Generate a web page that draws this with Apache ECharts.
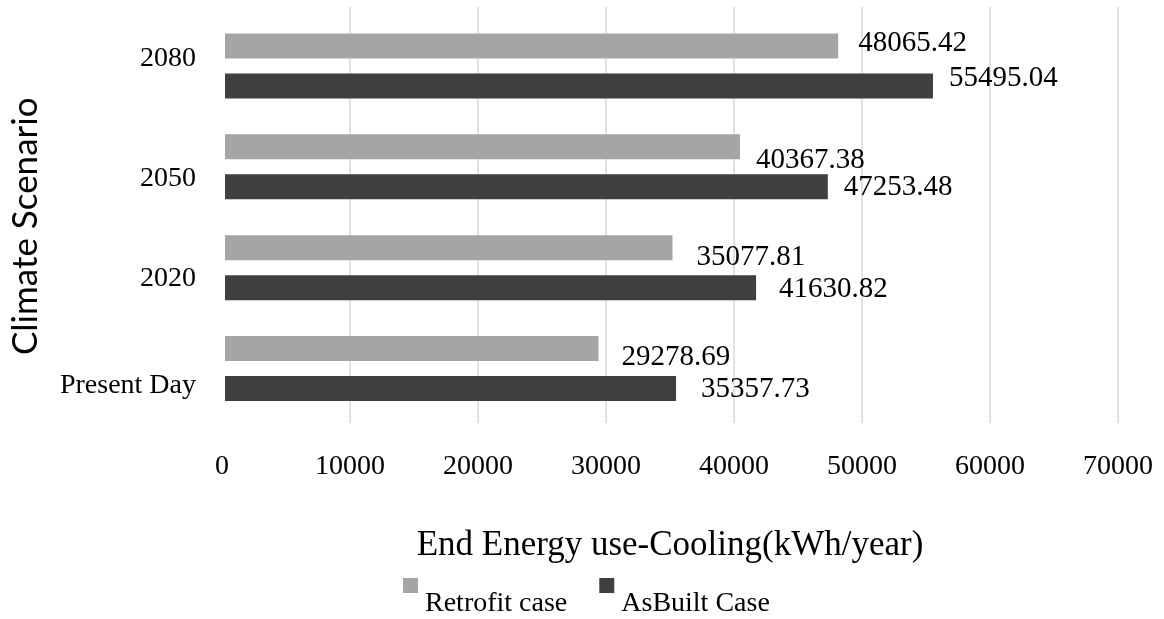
<!DOCTYPE html>
<html>
<head>
<meta charset="utf-8">
<script src="https://cdn.jsdelivr.net/npm/echarts@6/dist/echarts.min.js"></script>
<style>
html,body{margin:0;padding:0;background:#fff;}
#chart{width:1164px;height:619px;}
</style>
</head>
<body>
<div id="chart"></div>
<script>
// ---- data ----
const categories = ['Present Day', '2020', '2050', '2080'];
const retrofitValues = [29278.69, 35077.81, 40367.38, 48065.42];
const asBuiltValues = [35357.73, 41630.82, 47253.48, 55495.04];
const seriesNames = ['Retrofit case', 'AsBuilt Case'];
const xTickMin = 0, xTickMax = 70000, xTickStep = 10000;

// ---- styling (label nudges in px) ----
const retrofitLabelShift = [[23, 9], [24, 10], [16, 14], [20, -3]];
const asBuiltLabelShift = [[25, 1], [23, 2], [16, 1], [16, -8]];
const categoryLabelShift = [17, 11, 12, -7];

const SERIF = '"Liberation Serif", "Times New Roman", serif';
const LIGHT = '#a5a5a5', DARK = '#3f3f3f';

function buildData(values, shifts) {
  return values.map((v, i) => ({
    value: v,
    label: { offset: shifts[i] }
  }));
}
const labelBase = {
  show: true, position: 'right', distance: 0,
  color: '#000', fontFamily: SERIF, fontSize: 29,
  formatter: p => p.value.toFixed(2)
};
const catRich = {};
categoryLabelShift.forEach((s, i) => {
  catRich['c' + i] = {
    color: '#000', fontFamily: SERIF, fontSize: 28,
    padding: s >= 0 ? [2 * s, 0, 0, 0] : [0, 0, -2 * s, 0]
  };
});

const chart = echarts.init(document.getElementById('chart'), null, {renderer: 'canvas'});
chart.setOption({
  animation: false,
  backgroundColor: '#ffffff',
  grid: [
    {left: 222, right: 46, top: 7, bottom: 196},
    {left: 222, right: 46, top: 15.5, bottom: 200}
  ],
  xAxis: [
    {
      gridIndex: 0, type: 'value', min: xTickMin, max: xTickMax, interval: xTickStep,
      axisLine: {show: false}, axisTick: {show: false},
      splitLine: {show: true, showMinLine: false, lineStyle: {color: '#d9d9d9', width: 1.5}},
      axisLabel: {color: '#000', fontFamily: SERIF, fontSize: 28, margin: 30,
        formatter: v => String(v)},
      name: 'End Energy use-Cooling(kWh/year)', nameLocation: 'middle', nameGap: 105,
      nameTextStyle: {color: '#000', fontFamily: SERIF, fontSize: 35}
    },
    {
      gridIndex: 1, type: 'value', min: xTickMin, max: xTickMax, interval: xTickStep,
      show: false, splitLine: {show: false}
    }
  ],
  yAxis: [
    {gridIndex: 0, type: 'value', min: 0, max: 1, show: false, splitLine: {show: false}},
    {
      gridIndex: 1, type: 'category', data: categories,
      axisLine: {show: false}, axisTick: {show: false}, splitLine: {show: false},
      axisLabel: {color: '#000', fontFamily: SERIF, fontSize: 28, margin: 29,
        formatter: (v, i) => '{c' + i + '|' + v + '}', rich: catRich},
      name: 'Climate Scenario', nameLocation: 'middle', nameGap: 182,
      nameTextStyle: {color: '#000', fontFamily: 'Lato, "Open Sans", sans-serif', fontSize: 35,
        padding: [0, 18, 0, 0]}
    }
  ],
  legend: {
    data: seriesNames,
    left: 398, top: 573,
    itemWidth: 15, itemHeight: 15, itemGap: 32,
    icon: 'rect',
    formatter: '{t|{name}}',
    textStyle: {
      color: '#000', fontFamily: SERIF, fontSize: 28,
      rich: {t: {color: '#000', fontFamily: SERIF, fontSize: 28, padding: [36, 0, 0, 2]}}
    }
  },
  series: [
    {
      name: seriesNames[0], type: 'bar', xAxisIndex: 1, yAxisIndex: 1,
      data: buildData(retrofitValues, retrofitLabelShift),
      barWidth: 25, barGap: '60%',
      itemStyle: {color: LIGHT},
      label: labelBase
    },
    {
      name: seriesNames[1], type: 'bar', xAxisIndex: 1, yAxisIndex: 1,
      data: buildData(asBuiltValues, asBuiltLabelShift),
      barWidth: 25, barGap: '60%',
      itemStyle: {color: DARK},
      label: labelBase
    }
  ]
});
</script>
</body>
</html>
